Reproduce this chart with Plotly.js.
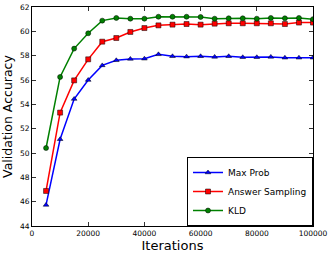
<!DOCTYPE html>
<html><head><meta charset="utf-8">
<script src="https://cdn.plot.ly/plotly-3.0.1.min.js"></script>
<style>html,body{margin:0;padding:0;background:#fff}#c{width:333px;height:256px}</style>
</head><body><div id="c"></div>
<script>
const iterations = [5000,10000,15000,20000,25000,30000,35000,40000,45000,50000,55000,60000,65000,70000,75000,80000,85000,90000,95000,100000];
const maxProb = [45.73,51.13,54.44,56.0,57.2,57.62,57.73,57.75,58.11,57.95,57.92,57.95,57.9,57.95,57.87,57.87,57.9,57.83,57.83,57.83];
const answerSampling = [46.88,53.32,55.97,57.7,59.15,59.45,59.95,60.27,60.49,60.55,60.6,60.55,60.63,60.66,60.66,60.66,60.66,60.6,60.72,60.72];
const kld = [50.41,56.25,58.58,59.84,60.88,61.1,61.04,61.04,61.2,61.2,61.2,61.18,61.04,61.07,61.07,61.04,61.1,61.07,61.1,61.0];
const seriesNames = ["Max Prob","Answer Sampling","KLD"];
const xTicks = [0,20000,40000,60000,80000,100000];
const yTicks = [44,46,48,50,52,54,56,58,60,62];

const font = "DejaVu Sans, sans-serif";
const mk = (y, name, color, symbol) => ({
  x: iterations, y: y, name: name, type: "scatter", mode: "lines+markers",
  line: {color: color, width: 1.5},
  marker: {color: color, symbol: symbol, size: 5, line: {color: "#000", width: 0.5}}
});
const data = [
  mk(maxProb, seriesNames[0], "#0000ff", "triangle-up"),
  mk(answerSampling, seriesNames[1], "#ff0000", "square"),
  mk(kld, seriesNames[2], "#008000", "circle")
];
const axisCommon = {
  showgrid: false, zeroline: false, showline: true, linecolor: "#000", linewidth: 1,
  mirror: "ticks", ticks: "inside", ticklen: 4, tickcolor: "#000", tickwidth: 0.8,
  tickfont: {family: font, size: 7.5, color: "#000"}
};
const layout = {
  width: 333, height: 256,
  margin: {l: 32, r: 20, t: 7, b: 30},
  paper_bgcolor: "#fff", plot_bgcolor: "#fff",
  font: {family: font, color: "#000"},
  xaxis: Object.assign({}, axisCommon, {
    range: [0, 100000], tickvals: xTicks, ticktext: xTicks.map(String),
    title: {text: "Iterations", font: {family: font, size: 13}, standoff: 2}
  }),
  yaxis: Object.assign({}, axisCommon, {
    range: [44, 62], tickvals: yTicks, ticktext: yTicks.map(String),
    title: {text: "Validation Accuracy", font: {family: font, size: 12.5}, standoff: 4}
  }),
  showlegend: true,
  legend: {
    x: 1, xanchor: "right", y: 0, yanchor: "bottom",
    bgcolor: "#fff", bordercolor: "#000", borderwidth: 1,
    font: {family: font, size: 9}, itemwidth: 30, tracegroupgap: 0
  }
};
Plotly.newPlot("c", data, layout, {staticPlot: true, displayModeBar: false});
</script></body></html>
